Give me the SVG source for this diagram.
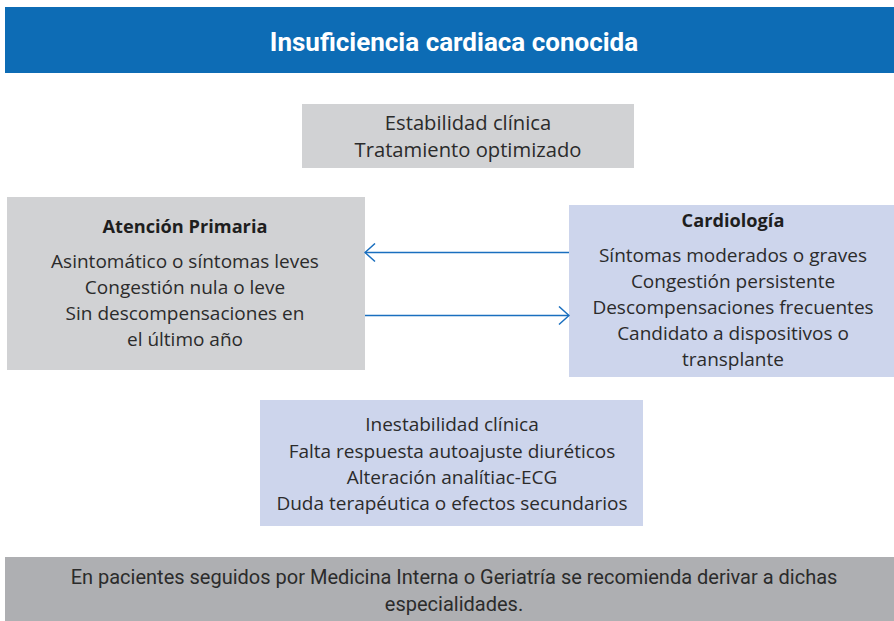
<svg xmlns="http://www.w3.org/2000/svg" width="894" height="621" viewBox="0 0 894 621">
<defs>
<style>
.t{font-family:"Open Sans","Liberation Sans",Arial,sans-serif;font-size:19px;fill:#2b2b2b;text-anchor:middle}
.b{font-weight:bold;font-size:18.2px;fill:#1e1e1e}
.e{font-size:20.2px}
.r{font-family:Roboto,"Liberation Sans",sans-serif;text-anchor:middle}
.gray{fill:#d1d2d4}
.blue{fill:#cdd5ec}
.c{stroke:#1a6fbf;stroke-width:1.5;fill:none}
</style>
<marker id="ah" markerWidth="12" markerHeight="20" refX="11" refY="10" orient="auto" markerUnits="userSpaceOnUse">
<path d="M1,1 L11,10 L1,19" stroke="#1a6fbf" stroke-width="1.5" fill="none"/>
</marker>
</defs>
<rect width="894" height="621" fill="#fff"/>
<g id="header">
<rect x="5" y="7" width="889" height="66" fill="#0d6cb5"/>
<text class="r" x="454" y="51" style="font-size:26px;font-weight:bold;fill:#fff">Insuficiencia cardiaca conocida</text>
</g>
<g id="estabilidad">
<rect class="gray" x="302" y="104" width="332" height="64"/>
<text class="t e" x="468" y="129.5">Estabilidad clínica</text>
<text class="t e" x="468" y="156.5">Tratamiento optimizado</text>
</g>
<g id="primaria">
<rect class="gray" x="7" y="197" width="358" height="173"/>
<text class="t b" x="185" y="233">Atención Primaria</text>
<text class="t" x="185" y="268">Asintomático o síntomas leves</text>
<text class="t" x="185" y="294">Congestión nula o leve</text>
<text class="t" x="185" y="320">Sin descompensaciones en</text>
<text class="t" x="185" y="346">el último año</text>
</g>
<g id="cardiologia">
<rect class="blue" x="569" y="205" width="325" height="172"/>
<text class="t b" x="733" y="227">Cardiología</text>
<text class="t" x="733" y="262">Síntomas moderados o graves</text>
<text class="t" x="733" y="288">Congestión persistente</text>
<text class="t" x="733" y="314">Descompensaciones frecuentes</text>
<text class="t" x="733" y="340">Candidato a dispositivos o</text>
<text class="t" x="733" y="366">transplante</text>
</g>
<g id="inestabilidad">
<rect class="blue" x="260" y="400" width="383" height="126"/>
<text class="t" x="452" y="431">Inestabilidad clínica</text>
<text class="t" x="452" y="458">Falta respuesta autoajuste diuréticos</text>
<text class="t" x="452" y="484">Alteración analítiac-ECG</text>
<text class="t" x="452" y="510">Duda terapéutica o efectos secundarios</text>
</g>
<g id="nota">
<rect x="5" y="557" width="889" height="64" fill="#aeafb2"/>
<text class="r" x="454" y="584" style="font-size:20px;fill:#2b2b2b">En pacientes seguidos por Medicina Interna o Geriatría se recomienda derivar a dichas</text>
<text class="r" x="454" y="611" style="font-size:20px;fill:#2b2b2b">especialidades.</text>
</g>
<g id="connectors">
<line class="c" x1="569" y1="252.5" x2="365" y2="252.5" marker-end="url(#ah)"/>
<line class="c" x1="365" y1="315.5" x2="569" y2="315.5" marker-end="url(#ah)"/>
</g>
</svg>
